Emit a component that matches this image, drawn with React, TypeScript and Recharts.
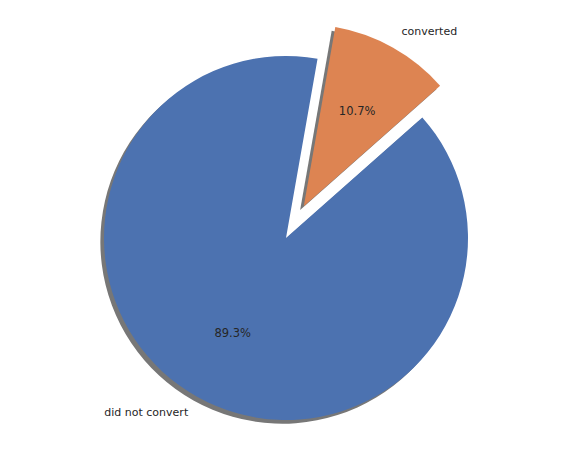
import { PieChart, Pie, Cell } from "recharts";

// slice values (percent of users)
const categories = ["converted", "did not convert"];
const shares = [10.7, 89.3];
const explode = [0.2, 0];
const colors = ["#dd8452", "#4c72b0"];

const data = categories.map((name, i) => ({ name, value: shares[i] }));

const CX = 286;
const CY = 238;
const R = 182;
const START = 41.5;
const SHADOW = 0.02 * R;
const TEXT = "#262626";

// mid angle of each slice, taken from the data
const total = shares.reduce((a, b) => a + b, 0);
const mids: number[] = [];
let acc = START;
shares.forEach(v => {
  const span = (v / total) * 360;
  mids.push(acc + span / 2);
  acc += span;
});
const offsets = mids.map((m, i) => ({
  dx: explode[i] * R * Math.cos((m * Math.PI) / 180),
  dy: -explode[i] * R * Math.sin((m * Math.PI) / 180),
}));

const renderLabel = (props: any) => {
  const { cx, cy, midAngle, outerRadius, index, percent } = props;
  const rad = (midAngle * Math.PI) / 180;
  const lx = cx + outerRadius * 1.1 * Math.cos(rad);
  const ly = cy - outerRadius * 1.1 * Math.sin(rad);
  const px = cx + outerRadius * 0.6 * Math.cos(rad);
  const py = cy - outerRadius * 0.6 * Math.sin(rad);
  return (
    <g>
      <text x={lx} y={ly} fill={TEXT} fontSize={11} textAnchor={Math.cos(rad) >= 0 ? "start" : "end"} dominantBaseline="central">
        {categories[index]}
      </text>
      <text x={px} y={py} fill={TEXT} fontSize={11.5} textAnchor="middle" dominantBaseline="central">
        {(percent * 100).toFixed(1)}%
      </text>
    </g>
  );
};

export default function App() {
  return (
    <div style={{ position: "absolute", left: 0, top: 0, fontFamily: "DejaVu Sans" }}>
      <PieChart width={572} height={449} margin={{ top: 0, right: 0, bottom: 0, left: 0 }}>
        {data.map((_, k) => (
          <Pie
            key={"shadow" + k}
            data={data}
            dataKey="value"
            cx={CX + offsets[k].dx - SHADOW}
            cy={CY + offsets[k].dy + SHADOW}
            outerRadius={R}
            startAngle={START}
            endAngle={START + 360}
            stroke="none"
            isAnimationActive={false}
          >
            {data.map((_, i) => (
              <Cell key={i} fill={i === k ? "#777777" : "none"} />
            ))}
          </Pie>
        ))}
        {data.map((_, k) => (
          <Pie
            key={"slice" + k}
            data={data}
            dataKey="value"
            cx={CX + offsets[k].dx}
            cy={CY + offsets[k].dy}
            outerRadius={R}
            startAngle={START}
            endAngle={START + 360}
            stroke="none"
            labelLine={false}
            label={(p: any) => (p.index === k ? renderLabel(p) : null)}
            isAnimationActive={false}
          >
            {data.map((_, i) => (
              <Cell key={i} fill={i === k ? colors[i] : "none"} />
            ))}
          </Pie>
        ))}
      </PieChart>
    </div>
  );
}
